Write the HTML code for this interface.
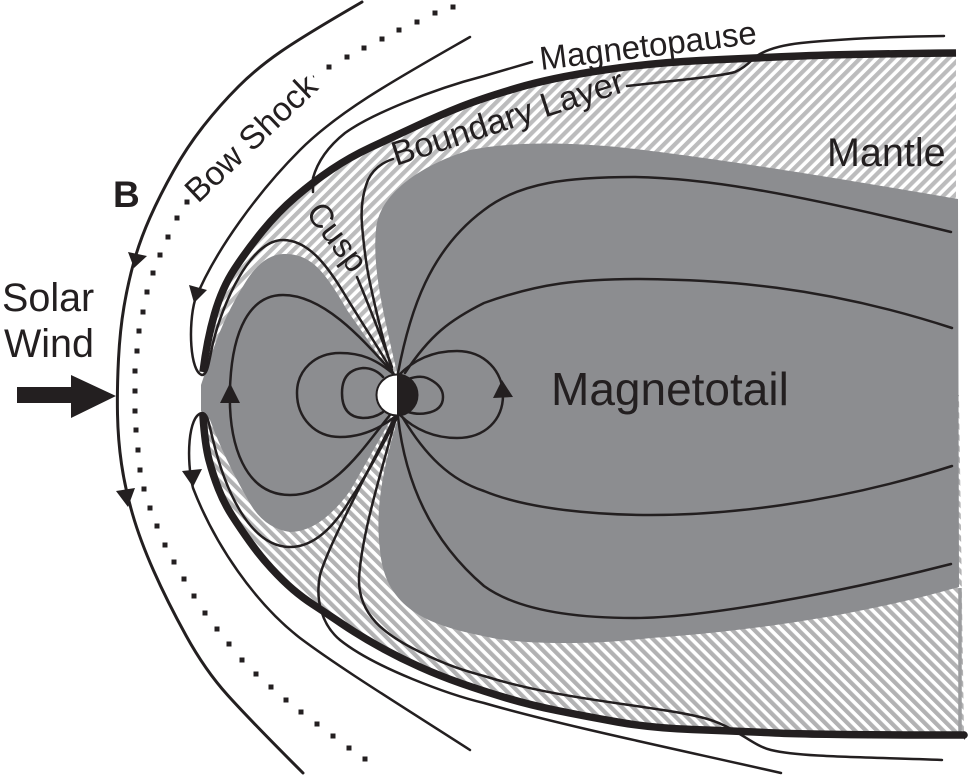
<!DOCTYPE html>
<html><head><meta charset="utf-8"><style>
html,body{margin:0;padding:0;background:#fff}
svg{display:block}
text{font-family:"Liberation Sans",Arial,sans-serif;fill:#231f20}
</style></head><body>
<svg width="968" height="775" viewBox="0 0 968 775" xmlns="http://www.w3.org/2000/svg">
<defs>
<pattern id="hu" width="7.8" height="7.8" patternUnits="userSpaceOnUse" patternTransform="rotate(45)"><rect width="7.8" height="7.8" fill="#fff"/><rect width="4.2" height="7.8" fill="#bcbcbd"/></pattern>
<pattern id="hd" width="7.8" height="7.8" patternUnits="userSpaceOnUse" patternTransform="rotate(-45)"><rect width="7.8" height="7.8" fill="#fff"/><rect width="4.2" height="7.8" fill="#b2b2b3"/></pattern>
</defs>
<rect width="968" height="775" fill="#fff"/>
<path fill="url(#hu)" d="M203 372 Q207 340 214.5 314 Q222 288 234.5 269 Q247 250 262.5 231 Q278 212 295.5 197 Q313 182 331.5 169.5 Q350 157 371.5 147 Q393 137 416.5 126 Q440 115 461.5 106.5 Q483 98 517 88 Q551 78 600.5 70.5 Q650 63 700.5 60.5 Q751 58 800.5 56 Q850 54 956 53 L956 395 L203 395 Z"/>
<path fill="url(#hd)" d="M203 416 Q205 445 209 460 Q213 475 218.5 489 Q224 503 232 515.5 Q240 528 250 542 Q260 556 271.5 568.5 Q283 581 293 589.5 Q303 598 313 604.5 Q323 611 341.5 623.5 Q360 636 380 647 Q400 658 420 667 Q440 676 461.5 683.5 Q483 691 506.5 698 Q530 705 557 710.5 Q584 716 617.5 722 Q651 728 692.5 729.5 Q734 731 775.5 733 Q817 735 964 735 L959 395 L203 395 Z"/>
<path fill="#8c8d90" d="M397 373 C385 320 372 270 376 230 C378 195 420 165 470 150 C510 142 560 142 617 147 C690 155 790 170 958 199 L959 587 C860 615 760 630 651 638 C590 645 520 645 483 636 C430 625 385 610 380 550 C375 510 382 470 399 415 Z"/>
<path fill="#8c8d90" d="M393 376 L347 310 Q330 280 318 268 Q303 253 283 254 Q262 255 245 283 Q225 315 213 350 Q206 370 201 385 L201 411 L210 420 Q225 460 247 498 Q262 528 290 532 Q320 532 350 491 L390 421 Z"/>
<rect x="396" y="395" width="10" height="6" fill="#8c8d90"/>
<path d="M960 588 L960 733" stroke="#9c9d9f" stroke-width="3.5" fill="none"/>

<g fill="none" stroke="#231f20" stroke-linecap="round" stroke-linejoin="round">
<path stroke-width="7.5" stroke-linecap="butt" d="M203 372 Q207 340 214.5 314 Q222 288 234.5 269 Q247 250 262.5 231 Q278 212 295.5 197 Q313 182 331.5 169.5 Q350 157 371.5 147 Q393 137 416.5 126 Q440 115 461.5 106.5 Q483 98 517 88 Q551 78 600.5 70.5 Q650 63 700.5 60.5 Q751 58 800.5 56 Q850 54 956 53"/>
<path stroke-width="7.5" d="M203 416 Q205 445 209 460 Q213 475 218.5 489 Q224 503 232 515.5 Q240 528 250 542 Q260 556 271.5 568.5 Q283 581 293 589.5 Q303 598 313 604.5 Q323 611 341.5 623.5 Q360 636 380 647 Q400 658 420 667 Q440 676 461.5 683.5 Q483 691 506.5 698 Q530 705 557 710.5 Q584 716 617.5 722 Q651 728 692.5 729.5 Q734 731 775.5 733 Q817 735 964 735"/>

<path stroke-width="3" d="M362 2 Q305 35 281 51.5 Q257 68 238.5 86.5 Q220 105 203.5 126 Q187 147 173.5 171 Q160 195 150 217.5 Q140 240 134 261.5 Q128 283 124 306.5 Q120 330 118.5 359 Q117 388 117.5 414 Q118 440 121.5 464 Q125 488 132.5 514 Q140 540 153.5 570.5 Q167 601 186 635.5 Q205 670 227.5 695 Q250 720 303 773"/>

<g stroke-width="2.5">
<path d="M470 37 C400 77 340 110 300 150 C260 190 215 250 195 300 C188 325 190 372 202 375 C208 375 209 360 213 343 C222 305 250 240 283 240 C310 240 330 270 345 295 C360 320 380 350 393 373"/>
<path d="M470 750 C400 705 340 668 300 638 C255 603 215 545 193 488 C186 460 188 415 202 413 C208 413 209 425 213 440 C225 490 250 547 290 547 C315 547 335 525 350 500 C370 470 385 440 397 418"/>
<path d="M393 373 C365 342 325 295 283 295 C250 295 232 330 230 388 C228 445 245 495 290 495 C335 495 365 445 390 415"/>
<path d="M395 416 C380 450 330 540 320 575 C315 600 322 625 340 640 C375 668 450 695 484 703 C560 725 680 750 781 773"/>
<path d="M396 417 C385 460 362 530 359 578 C358 615 385 635 420 652 C450 667 470 672 484 676 C560 700 650 705 700 717 C735 725 750 745 771 750 C800 757 860 757 942 760"/>
<path d="M398 417 C405 480 430 540 484 586 C520 612 580 618 634 618 C700 618 830 595 951 564"/>
<path d="M403 418 C425 455 450 480 484 491 C530 510 600 515 651 515 C720 515 830 505 952 466"/>
<path d="M398 373 C410 310 430 250 484 210 C520 182 570 177 634 177 C700 178 780 190 951 232"/>
<path d="M405 373 C430 335 450 320 484 303 C540 283 580 279 640 279 C720 280 820 285 952 328"/>
<path d="M393 159 Q375 165 368 180 Q360 200 362 225 Q365 260 370 283 Q380 330 392 370"/>
<path d="M357 277 Q375 320 392 367"/>
<path d="M313 192 L313 178 C318 160 330 145 345 133 C370 115 430 90 484 76 L532 62"/>
<path d="M627 86 L690 79 Q725 75 735 72 Q744 68 752 60 Q765 47 801 43 Q860 37 944 36"/>
<path d="M383 377 Q375 368 363 368 Q342 370 342 393 Q342 417 363 418 Q375 418 383 412"/>
<path d="M396 376 C375 358 360 353 340 353 C315 353 297 370 297 393 C297 418 315 437 340 437 C360 437 378 430 396 416"/>
<path d="M408 379 Q420 375 427 378 Q443 385 443 397 Q443 410 427 413 Q418 415 408 412"/>
<path d="M398 376 C415 358 435 351 457 351 C485 351 503 372 503 395 C503 420 485 438 457 438 C435 438 415 430 400 415"/>
</g>

<path stroke-width="5" stroke-linecap="butt" d="M450.5 7h5M432.5 13h5M414.500 22h5M396.500 30h5M379.500 39h5M361.500 48h5M344.500 57h5M326.500 67h5M184.500 202h5M174.500 218h5M165.500 237h5M157.500 255h5M150.500 273h5M144.500 292h5M140.500 312h5M136.500 331h5M134.500 351h5M132.500 371h5M132.500 391h5M132.500 411h5M133.500 430h5M135.500 450h5M137.500 470h5M141.500 489h5M147.500 508h5M154.500 526h5M162.500 545h5M171.500 562h5M181.500 579h5M191.500 596h5M202.500 613h5M214.500 629h5M226.500 644h5M239.500 660h5M253.500 674h5M268.500 687h5M283.500 700h5M298.500 712h5M314.500 724h5M330.500 736h5M346.500 748h5M362.500 759h5"/>
<path stroke-width="1" stroke-linecap="butt" d="M313 75.500l1 2"/>
</g>

<g fill="#231f20">
<polygon points="128,252 147,256 134,268"/>
<polygon points="116,491 135,488 128,507"/>
<polygon points="189,285 207,290 194,303"/>
<polygon points="182,471 202,469 193,487"/>
<polygon points="230,383 220,403 240,403"/>
<polygon points="502,380 493,398 513,397"/>
<polygon points="17,387 71,387 71,375 116,396 71,418 71,403 17,403"/>
<path d="M964 731 L968 735 L964 740 Z"/>
</g>

<circle cx="397" cy="395" r="20.5" fill="#fff" stroke="#231f20" stroke-width="2"/>
<path d="M397 374.500 A20.500 20.500 0 0 1 397 415.500 Z" fill="#231f20"/>

<text x="2" y="311" font-size="39.500">Solar</text>
<text x="4" y="357" font-size="39.500">Wind</text>
<text x="113" y="207" font-size="37" font-weight="bold">B</text>
<text x="551" y="405" font-size="46">Magnetotail</text>
<text x="827" y="166" font-size="39.500">Mantle</text>
<text transform="translate(541 70) rotate(-7)" font-size="33">Magnetopause</text>
<text transform="translate(198 204) rotate(-43.500)" font-size="33.500">Bow Shock</text>
<text transform="translate(396 166) rotate(-18)" font-size="34.300">Boundary Layer</text>
<text transform="translate(305 213) rotate(53)" font-size="33">Cusp</text>
</svg>
</body></html>
